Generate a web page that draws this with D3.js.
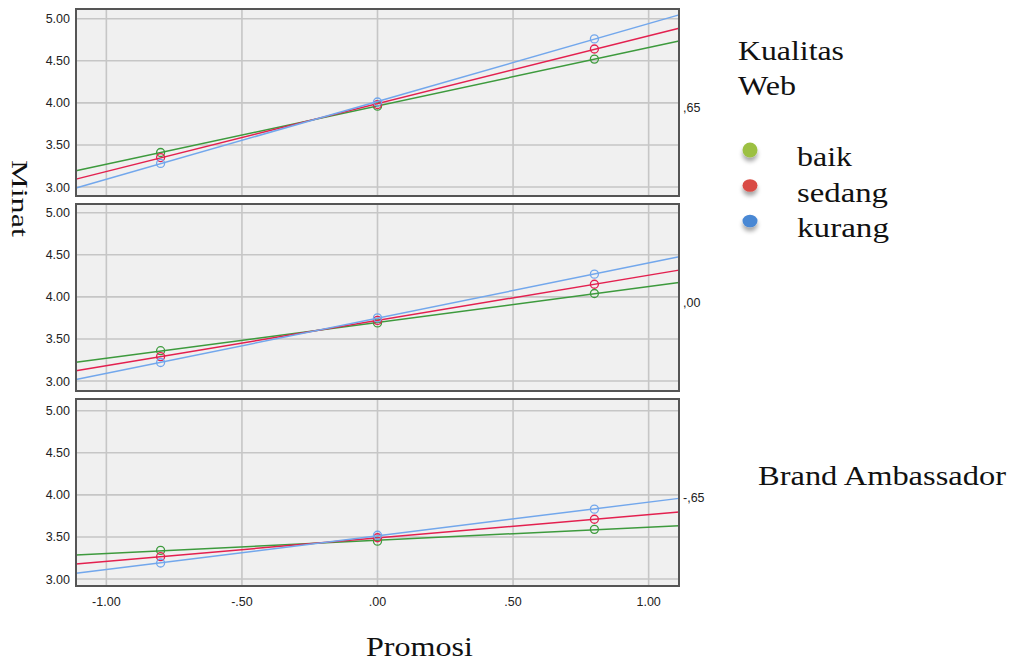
<!DOCTYPE html>
<html>
<head>
<meta charset="utf-8">
<script src="https://cdn.jsdelivr.net/npm/d3@7"></script>
<style>
  body { margin: 0; background: #fff; }
  svg { display: block; }
</style>
</head>
<body>
<svg id="chart" width="1010" height="662"></svg>
<script>
// data
var promosiTicks = [-1, -0.5, 0, 0.5, 1];
var promosiTickLabels = ['-1.00', '-.50', '.00', '.50', '1.00'];
var minatTicks = [3, 3.5, 4, 4.5, 5];
var minatTickLabels = ['3.00', '3.50', '4.00', '4.50', '5.00'];
var panelLabels = [',65', ',00', '-,65'];
var groups = ['baik', 'sedang', 'kurang'];
var promosiX = [-0.8, 0, 0.8];
// one row per Brand Ambassador panel (top to bottom)
var baik   = [[3.41, 3.96, 4.52], [3.36, 3.69, 4.04], [3.34, 3.45, 3.59]];
var sedang = [[3.35, 3.98, 4.64], [3.29, 3.72, 4.15], [3.265, 3.49, 3.71]];
var kurang = [[3.28, 4.01, 4.76], [3.22, 3.75, 4.27], [3.19, 3.52, 3.83]];

var lineColors = ['#3d9a3d', '#e3204f', '#72a7ec'];
var dotColors = ['#9cc043', '#d94c44', '#4a88d4'];
var series = [baik, sedang, kurang];

var svg = d3.select('#chart');
var left = 76, right = 679;
var panelTop = [9, 204, 399];
var panelH = 187;
var y5 = [18.7, 212.7, 410.7];   // where 5.00 sits in each panel
var unit = 84.15;                // px per Minat unit

var x = d3.scaleLinear().domain([-1.112, 1.112]).range([left, right]);

var defs = svg.append('defs');
var f = defs.append('filter').attr('id', 'shadow')
    .attr('x', '-60%').attr('y', '-60%').attr('width', '220%').attr('height', '260%');
f.append('feDropShadow').attr('dx', 0).attr('dy', 4).attr('stdDeviation', 2.2)
    .attr('flood-color', '#000').attr('flood-opacity', 0.35);

function fit(xs, ys) {
    var mx = d3.mean(xs), my = d3.mean(ys);
    var num = d3.sum(xs, function (d, i) { return (d - mx) * (ys[i] - my); });
    var den = d3.sum(xs, function (d) { return (d - mx) * (d - mx); });
    var b = num / den;
    return function (v) { return my + b * (v - mx); };
}

panelTop.forEach(function (top, p) {
    var y = d3.scaleLinear().domain([3, 5]).range([y5[p] + 2 * unit, y5[p]]);
    var g = svg.append('g');

    g.append('rect')
        .attr('x', left).attr('y', top)
        .attr('width', right - left).attr('height', panelH)
        .style('fill', '#f0f0f0');

    // grid
    g.selectAll('.vg').data(promosiTicks).enter().append('line')
        .attr('x1', function (d) { return x(d); }).attr('x2', function (d) { return x(d); })
        .attr('y1', top).attr('y2', top + panelH)
        .style('stroke', '#c6c6c6').style('stroke-width', '1.6px');
    g.selectAll('.hg').data(minatTicks).enter().append('line')
        .attr('x1', left).attr('x2', right)
        .attr('y1', function (d) { return y(d); }).attr('y2', function (d) { return y(d); })
        .style('stroke', '#c6c6c6').style('stroke-width', '1.6px');

    // y tick labels
    g.selectAll('.yl').data(minatTicks).enter().append('text')
        .attr('x', 70).attr('y', function (d) { return y(d) + 4.5; })
        .attr('text-anchor', 'end')
        .style('font-family', 'Liberation Sans, Arial, sans-serif')
        .style('font-size', '12.5px').style('fill', '#222')
        .text(function (d, i) { return minatTickLabels[i]; });

    // fit lines and points
    series.forEach(function (s, k) {
        var ys = s[p];
        var line = fit(promosiX, ys);
        var dom = x.domain();
        g.append('line')
            .attr('x1', x(dom[0])).attr('y1', y(line(dom[0])))
            .attr('x2', x(dom[1])).attr('y2', y(line(dom[1])))
            .style('stroke', lineColors[k]).style('stroke-width', '1.5px');
        g.selectAll('.pt' + k).data(ys).enter().append('circle')
            .attr('cx', function (d, i) { return x(promosiX[i]); })
            .attr('cy', function (d) { return y(d); })
            .attr('r', 4)
            .style('fill', 'none')
            .style('stroke', lineColors[k]).style('stroke-width', '1.3px');
    });

    g.append('rect')
        .attr('x', left).attr('y', top)
        .attr('width', right - left).attr('height', panelH)
        .style('fill', 'none').style('stroke', '#555').style('stroke-width', '2px');

    g.append('text')
        .attr('x', 683).attr('y', top + panelH / 2 + 9)
        .style('font-family', 'Liberation Sans, Arial, sans-serif')
        .style('font-size', '12.5px').style('fill', '#222')
        .text(panelLabels[p]);
});

// x tick labels
svg.selectAll('.xl').data(promosiTicks).enter().append('text')
    .attr('x', function (d) { return x(d); }).attr('y', 606)
    .attr('text-anchor', 'middle')
    .style('font-family', 'Liberation Sans, Arial, sans-serif')
    .style('font-size', '12.5px').style('fill', '#222')
    .text(function (d, i) { return promosiTickLabels[i]; });

var serif = 'Liberation Serif, Times New Roman, serif';

svg.append('text')
    .attr('x', 366).attr('y', 656)
    .attr('textLength', 107).attr('lengthAdjust', 'spacingAndGlyphs')
    .style('font-family', serif).style('font-size', '27px').style('fill', '#111')
    .text('Promosi');

svg.append('text')
    .attr('transform', 'translate(12,160) rotate(90)')
    .attr('textLength', 77).attr('lengthAdjust', 'spacingAndGlyphs')
    .style('font-family', serif).style('font-size', '24px').style('fill', '#111')
    .text('Minat');

svg.append('text')
    .attr('x', 758).attr('y', 485)
    .attr('textLength', 248).attr('lengthAdjust', 'spacingAndGlyphs')
    .style('font-family', serif).style('font-size', '28px').style('fill', '#111')
    .text('Brand Ambassador');

// legend
var titleLines = ['Kualitas', 'Web'];
var titleWidths = [106, 58];
svg.selectAll('.lt').data(titleLines).enter().append('text')
    .attr('x', 738).attr('y', function (d, i) { return 60 + i * 35; })
    .attr('textLength', function (d, i) { return titleWidths[i]; })
    .attr('lengthAdjust', 'spacingAndGlyphs')
    .style('font-family', serif).style('font-size', '28px').style('fill', '#111')
    .text(function (d) { return d; });

var itemWidths = [55, 91, 92];
var leg = svg.selectAll('.leg').data(groups).enter().append('g')
    .attr('transform', function (d, i) { return 'translate(0,' + (i * 35.5) + ')'; });
leg.append('ellipse')
    .attr('cx', 750).attr('cy', 150)
    .attr('rx', 7.5).attr('ry', function (d, i) { return i === 0 ? 7.5 : 6.3; })
    .attr('filter', 'url(#shadow)')
    .style('fill', function (d, i) { return dotColors[i]; });
leg.append('text')
    .attr('x', 797).attr('y', 166)
    .attr('textLength', function (d, i) { return itemWidths[i]; })
    .attr('lengthAdjust', 'spacingAndGlyphs')
    .style('font-family', serif).style('font-size', '28px').style('fill', '#111')
    .text(function (d) { return d; });
</script>
</body>
</html>
